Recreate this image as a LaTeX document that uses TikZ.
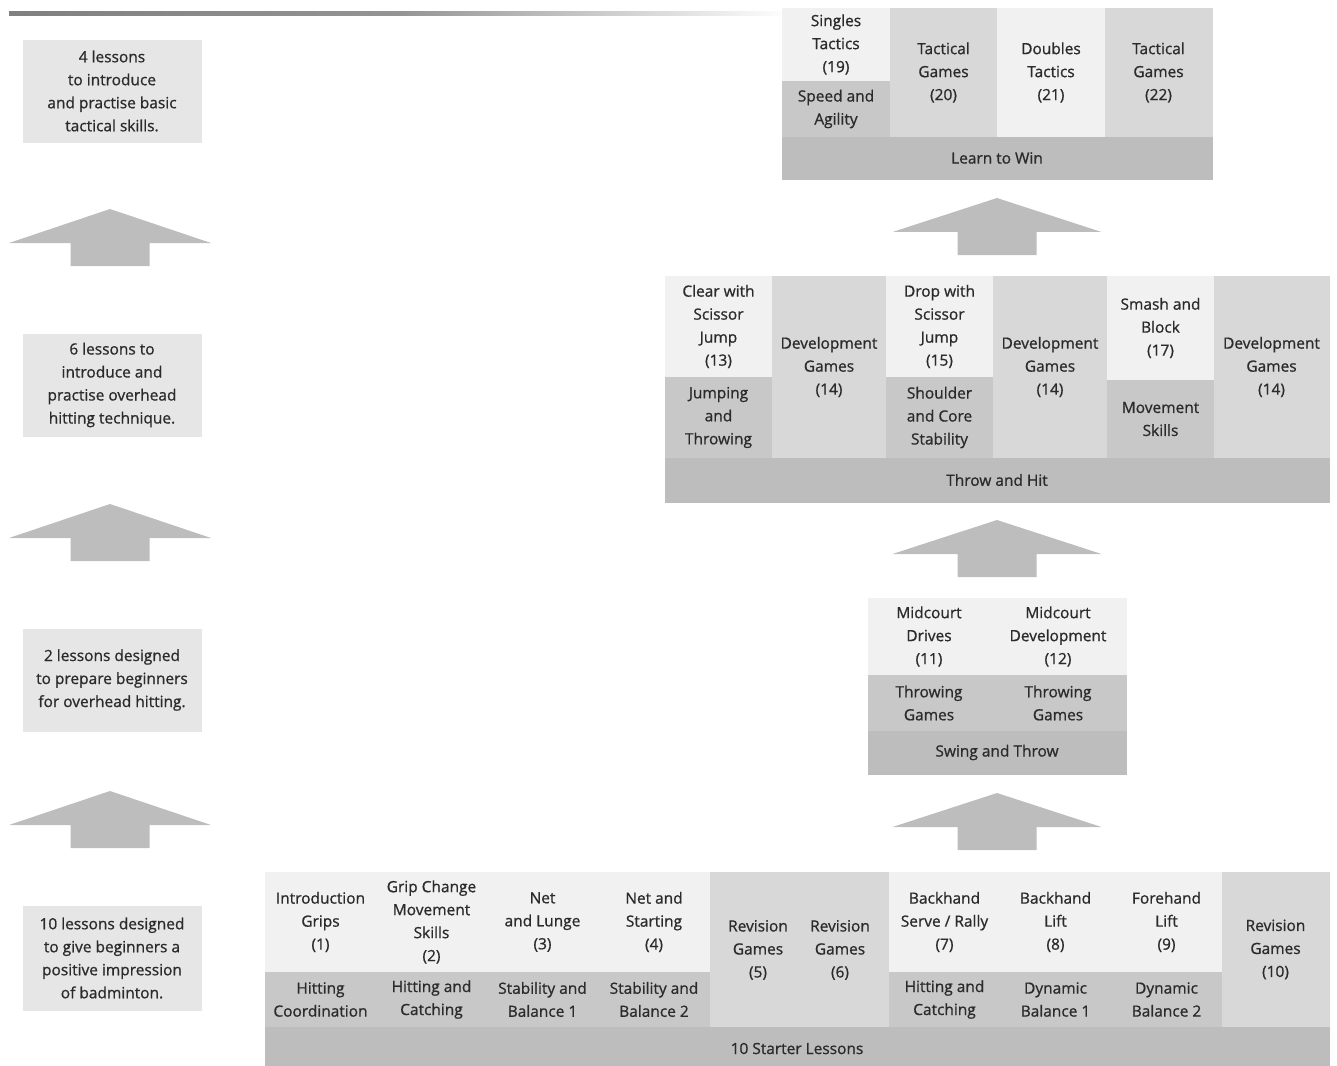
\documentclass[tikz,border=0pt]{standalone}
\usepackage{fontspec}
\setmainfont{Open Sans}[UprightFeatures={FakeBold=0.9}]
\definecolor{cLight}{HTML}{F1F1F1}
\definecolor{cMid}{HTML}{D8D8D8}
\definecolor{cDark}{HTML}{C8C8C8}
\definecolor{cBar}{HTML}{BDBDBD}
\definecolor{cLeft}{HTML}{E6E6E6}
\definecolor{cArrow}{HTML}{BDBDBD}
\definecolor{cText}{HTML}{2B2B2B}
\newcommand\cellnode[7]{\node[cell, fill=#6, draw=#6, minimum width={(#4-#2)*0.75pt}, minimum height={(#5-#3)*0.75pt}] (#1) at ({(#2+#4)/2},{(#3+#5)/2}) {#7};}
\newcommand\blockarrow[4]{%
  \coordinate (#1) at (#2,#3);
  \fill[cArrow] (#1) -- ++(#4,34) -- ++({-#4+39.5},0) -- ++(0,23) -- ++(-79,0) -- ++(0,-23) -- ++({-#4+39.5},0) -- cycle;}
\begin{document}
\begin{tikzpicture}[x=0.75pt,y=-0.75pt,
  cell/.style={rectangle, inner sep=0pt, outer sep=0pt, line width=0.4pt, align=center,
    text=cText, font=\fontsize{11.6}{17.25}\selectfont},
  leftbox/.style={cell, fill=cLeft, draw=cLeft}]
\useasboundingbox (0,0) rectangle (1337,1066);
% top rule
\shade[left color=black!50, right color=white, middle color=black!42] (9,11.5) rectangle (790,15.5);
% left column boxes
\cellnode{b4}{23}{40}{201}{142}{cLeft}{4 lessons\\to introduce\\and practise basic\\tactical skills.}
\cellnode{b6}{23}{334}{201}{436}{cLeft}{6 lessons to\\introduce and\\practise overhead\\hitting technique.}
\cellnode{b2}{23}{629}{201}{731}{cLeft}{2 lessons designed\\to prepare beginners\\for overhead hitting.}
\cellnode{b10}{23}{906}{201}{1010}{cLeft}{10 lessons designed\\to give beginners a\\positive impression\\of badminton.}
% left arrows
\blockarrow{la1}{110}{209}{101}
\blockarrow{la2}{110}{504}{101}
\blockarrow{la3}{110}{791}{101}
% right arrows
\blockarrow{ra1}{997}{198}{104.5}
\blockarrow{ra2}{997}{520}{104.5}
\blockarrow{ra3}{997}{793}{104.5}
% Learn to Win
\cellnode{s19}{782}{8}{890}{81}{cLight}{Singles\\Tactics\\(19)}
\cellnode{sa}{782}{81}{890}{137}{cDark}{Speed and\\Agility}
\cellnode{tg20}{890}{8}{997}{137}{cMid}{Tactical\\Games\\(20)}
\cellnode{dt21}{997}{8}{1105}{137}{cLight}{Doubles\\Tactics\\(21)}
\cellnode{tg22}{1105}{8}{1212}{137}{cMid}{Tactical\\Games\\(22)}
\cellnode{ltw}{782}{137}{1212}{179}{cBar}{Learn to Win}
% Throw and Hit
\cellnode{c13}{665}{276}{772}{377}{cLight}{Clear with\\Scissor\\Jump\\(13)}
\cellnode{jt}{665}{377}{772}{458}{cDark}{Jumping\\and\\Throwing}
\cellnode{dga}{772}{276}{886}{458}{cMid}{Development\\Games\\(14)}
\cellnode{d15}{886}{276}{993}{377}{cLight}{Drop with\\Scissor\\Jump\\(15)}
\cellnode{scs}{886}{377}{993}{458}{cDark}{Shoulder\\and Core\\Stability}
\cellnode{dgb}{993}{276}{1107}{458}{cMid}{Development\\Games\\(14)}
\cellnode{s17}{1107}{276}{1214}{380}{cLight}{Smash and\\Block\\(17)}
\cellnode{ms}{1107}{380}{1214}{458}{cDark}{Movement\\Skills}
\cellnode{dgc}{1214}{276}{1329}{458}{cMid}{Development\\Games\\(14)}
\cellnode{th}{665}{458}{1329}{502}{cBar}{Throw and Hit}
% Swing and Throw
\cellnode{m11}{868}{598}{990}{675}{cLight}{Midcourt\\Drives\\(11)}
\cellnode{m12}{990}{598}{1126}{675}{cLight}{Midcourt\\Development\\(12)}
\cellnode{tga}{868}{675}{990}{731}{cDark}{Throwing\\Games}
\cellnode{tgb}{990}{675}{1126}{731}{cDark}{Throwing\\Games}
\cellnode{st}{868}{731}{1126}{774}{cBar}{Swing and Throw}
% 10 Starter Lessons
\cellnode{l1}{265}{872}{376}{972}{cLight}{Introduction\\Grips\\(1)}
\cellnode{k1}{265}{972}{376}{1027}{cDark}{Hitting\\Coordination}
\cellnode{l2}{376}{872}{487}{972}{cLight}{Grip Change\\Movement\\Skills\\(2)}
\cellnode{k2}{376}{972}{487}{1027}{cDark}{Hitting and\\Catching}
\cellnode{l3}{487}{872}{598}{972}{cLight}{Net\\and Lunge\\(3)}
\cellnode{k3}{487}{972}{598}{1027}{cDark}{Stability and\\Balance 1}
\cellnode{l4}{598}{872}{710}{972}{cLight}{Net and\\Starting\\(4)}
\cellnode{k4}{598}{972}{710}{1027}{cDark}{Stability and\\Balance 2}
\cellnode{rg}{710}{872}{889}{1027}{cMid}{}
\node[cell] (rg5) at (758,950) {Revision\\Games\\(5)};
\node[cell] (rg6) at (840,950) {Revision\\Games\\(6)};
\cellnode{l7}{889}{872}{1000}{972}{cLight}{Backhand\\Serve / Rally\\(7)}
\cellnode{k7}{889}{972}{1000}{1027}{cDark}{Hitting and\\Catching}
\cellnode{l8}{1000}{872}{1111}{972}{cLight}{Backhand\\Lift\\(8)}
\cellnode{k8}{1000}{972}{1111}{1027}{cDark}{Dynamic\\Balance 1}
\cellnode{l9}{1111}{872}{1222}{972}{cLight}{Forehand\\Lift\\(9)}
\cellnode{k9}{1111}{972}{1222}{1027}{cDark}{Dynamic\\Balance 2}
\cellnode{rg10}{1222}{872}{1329}{1027}{cMid}{Revision\\Games\\(10)}
\cellnode{sl}{265}{1027}{1329}{1070}{cBar}{10 Starter Lessons}
\end{tikzpicture}
\end{document}
